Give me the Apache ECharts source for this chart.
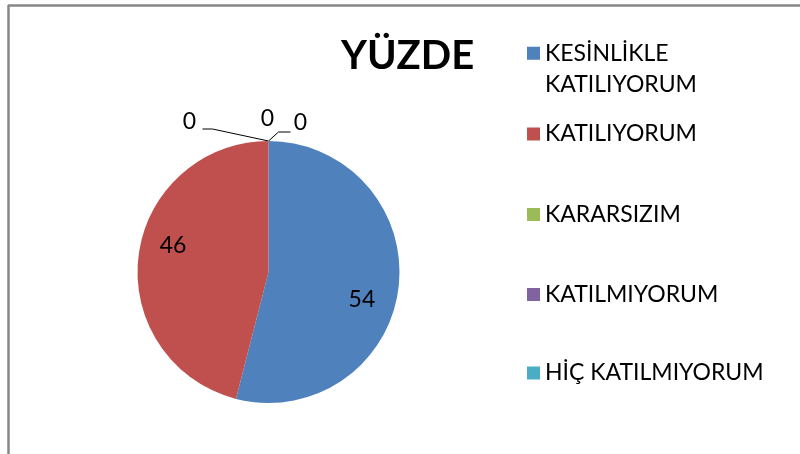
<!DOCTYPE html>
<html>
<head>
    <meta charset="utf-8">
    <title>YÜZDE</title>
    <script src="https://cdn.jsdelivr.net/npm/echarts@6/dist/echarts.min.js"></script>
    <style>
        html, body { margin: 0; padding: 0; background: #fff; }
    </style>
</head>
<body>
<div id="main" style="width: 800px; height: 454px;"></div>
<script type="text/javascript">
    // data
    var categories = ['KESİNLİKLE\nKATILIYORUM', 'KATILIYORUM', 'KARARSIZIM', 'KATILMIYORUM', 'HİÇ KATILMIYORUM'];
    var values = [54, 46, 0, 0, 0];
    var colors = ['#4F81BD', '#C0504D', '#9BBB59', '#8064A2', '#4BACC6'];

    var font = 'Lato';
    var cx = 268.5, cy = 272, r = 131;

    // legend item tops (first item is two lines high)
    var legendTops = [38, 121, 201.5, 281.5, 360];

    // label offsets: inner labels shift, zero labels sit above the top edge
    var labelShift = [[25.5, 19], [-27.5, -18]];
    var zeroLabels = {
        2: { pos: [-79, -19.5], line: [[-56, -12], [-66, -12]] },
        3: { pos: [-1, -22.5], line: [[0, 0]] },
        4: { pos: [32, -18.5], line: [[10, -9], [22, -9]] }
    };

    var myChart = echarts.init(document.getElementById('main'));

    var pieData = categories.map(function (name, i) {
        var item = { name: name, value: values[i], itemStyle: { color: colors[i] } };
        if (values[i] === 0) {
            item.label = { position: 'outside' };
            item.labelLine = { show: true };
        }
        return item;
    });

    var legends = categories.map(function (name, i) {
        var lg = {
            data: [name],
            orient: 'vertical',
            left: 527,
            top: legendTops[i],
            padding: 0,
            itemWidth: 13,
            itemHeight: 13,
            itemGap: 9,
            icon: 'rect',
            selectedMode: false,
            textStyle: { fontFamily: font, fontSize: 23, color: '#000', lineHeight: 26 }
        };
        if (i === 0) {
            // square at the top of a taller, invisible box so it lines up with the first text line
            lg.icon = 'path://M0,0L13,0L13,13L0,13Z M0,44.5L0.01,44.5';
            lg.itemHeight = 44.5;
            lg.textStyle.lineHeight = 31;
        }
        return lg;
    });

    var option = {
        animation: false,
        backgroundColor: '#fff',
        title: {
            text: 'YÜZDE',
            left: 341,
            top: 36,
            padding: 0,
            textStyle: { fontFamily: font, fontSize: 40, fontWeight: 'bold', color: '#000' }
        },
        legend: legends,
        graphic: [
            { type: 'line', shape: { x1: 8, y1: 5.5, x2: 800, y2: 5.5 }, style: { stroke: '#878787', lineWidth: 2.5 } },
            { type: 'line', shape: { x1: 8.5, y1: 5, x2: 8.5, y2: 454 }, style: { stroke: '#878787', lineWidth: 2.5 } }
        ],
        series: [{
            type: 'pie',
            center: [cx, cy],
            radius: r,
            startAngle: 90,
            clockwise: true,
            avoidLabelOverlap: false,
            emphasis: { disabled: true },
            label: {
                show: true,
                position: 'inside',
                formatter: '{c}',
                fontFamily: font,
                fontSize: 23,
                color: '#000'
            },
            labelLine: {
                show: false,
                length: 10,
                length2: 10,
                lineStyle: { color: '#000', width: 1 }
            },
            labelLayout: function (params) {
                var i = params.dataIndex;
                if (zeroLabels[i]) {
                    var a = (params.labelLinePoints && params.labelLinePoints[0]) || [cx, cy - r];
                    var z = zeroLabels[i];
                    var pts = [[a[0], a[1]]].concat(z.line.map(function (p) {
                        return [a[0] + p[0], a[1] + p[1]];
                    }));
                    return {
                        x: a[0] + z.pos[0],
                        y: a[1] + z.pos[1],
                        align: 'center',
                        verticalAlign: 'middle',
                        labelLinePoints: pts
                    };
                }
                if (labelShift[i]) {
                    return { dx: labelShift[i][0], dy: labelShift[i][1] };
                }
            },
            data: pieData
        }]
    };

    myChart.setOption(option);
</script>
</body>
</html>
